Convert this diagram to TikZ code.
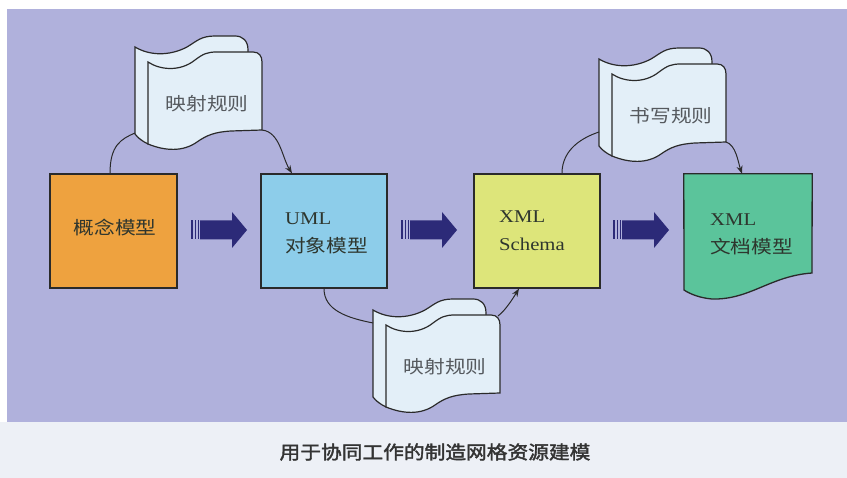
\documentclass[tikz,border=0pt]{standalone}
\usepackage{fontspec}
\setmainfont[FakeStretch=1.15]{Liberation Serif}
\newfontfamily\cjk[FakeStretch=1.15]{Noto Sans CJK SC}
\newfontfamily\cjkbold[FakeStretch=1.12,FakeBold=2]{Noto Sans CJK SC}
\usetikzlibrary{arrows.meta}
\definecolor{bgc}{HTML}{B0B1DC}
\definecolor{bandc}{HTML}{EDF0F6}
\definecolor{boxA}{HTML}{EEA23F}
\definecolor{boxB}{HTML}{8DCDEA}
\definecolor{boxC}{HTML}{DDE57A}
\definecolor{boxD}{HTML}{5BC49B}
\definecolor{scrollc}{HTML}{E3EFF8}
\definecolor{navy}{HTML}{2C2A78}
\definecolor{linec}{HTML}{2A2A2A}
\definecolor{txtc}{HTML}{2E362E}
\definecolor{stxt}{HTML}{55595E}
\tikzset{
  modelbox/.style={draw=linec, line width=1.3pt, minimum height=114pt, inner sep=0pt},
  boxtext/.style={text=txtc, font=\fontsize{18}{28}\selectfont, inner sep=0pt},
  conn/.style={draw=linec, line width=1pt},
  connarrow/.style={conn, -{Stealth[length=8pt,width=6pt]}},
  scroll/.pic={
    \path[fill=scrollc, draw=linec, line width=1.2pt]
      (0,0) .. controls (15,9) and (35,9) .. (52,0)
      .. controls (62,-6) and (66,-11) .. (80,-11) -- (100,-11)
      .. controls (108,-11) and (113,-6) .. (113,3) -- (113,80) -- (13,97)
      .. controls (7,94) and (3,91) .. (0,87) -- cycle;
    \path[fill=scrollc, draw=linec, line width=1.2pt]
      (13,15) .. controls (25,23) and (45,25) .. (60,13)
      .. controls (68,7) and (72,5) .. (82,5) -- (118,5)
      .. controls (124,5) and (127,9) .. (127,15) -- (127,83) -- (96,84)
      .. controls (80,85) and (72,88) .. (62,95)
      .. controls (48,105) and (30,104) .. (13,97) -- cycle;
    \node[text=stxt, font=\cjk\fontsize{18}{20}\selectfont, inner sep=0pt] (-txt) at (72,57) {#1};
    \coordinate (-lt) at (0,13);
    \coordinate (-lm) at (0,73);
    \coordinate (-lb) at (0,86);
    \coordinate (-rb) at (127,83);
    \coordinate (-rt) at (125,6);
  },
  blockarrow/.pic={
    \fill[navy] (0,-9.5) rectangle (2,9.5);
    \fill[navy] (3.5,-9.5) rectangle (5,9.5);
    \fill[navy] (6.5,-9.5) rectangle (8,9.5);
    \fill[navy] (9,-9.5) -- (41,-9.5) -- (41,-18) -- (56,0) -- (41,18) -- (41,9.5) -- (9,9.5) -- cycle;
  }
}
\begin{document}
\begin{tikzpicture}[x=1pt, y=-1pt]
\useasboundingbox (0,0) rectangle (847,478);
% backgrounds
\fill[white] (0,0) rectangle (847,478);
\fill[bgc] (7,9) rectangle (847,422);
\fill[bandc] (0,422) rectangle (847,478);

% boxes
\node[modelbox, fill=boxA, minimum width=127pt] (b1) at (113.5,231) {};
\node[modelbox, fill=boxB, minimum width=126pt] (b2) at (324,231) {};
\node[modelbox, fill=boxC, minimum width=126pt] (b3) at (537,231) {};
\node[minimum width=128pt, minimum height=114pt, inner sep=0pt] (b4) at (748,231) {};
\path[fill=boxD, draw=linec, line width=1.3pt]
  (b4.north west) -- (b4.north east) -- (812,273)
  .. controls (770,276) and (750,300) .. (712,299)
  .. controls (700,298) and (690,294) .. (684,290) -- cycle;

% box texts
\node[boxtext, font=\cjk\fontsize{18}{28}\selectfont] (t1) at (115,228) {概念模型};
\node[boxtext, anchor=west, align=left] (t2) at (285,233) {UML\\{\cjk 对象模型}};
\node[boxtext, anchor=west, align=left] (t3) at (499,231) {XML\\Schema};
\node[boxtext, anchor=west, align=left] (t4) at (710,234) {XML\\{\cjk 文档模型}};

% block arrows
\pic at (191,230) {blockarrow};
\pic at (401,230) {blockarrow};
\pic at (613,230) {blockarrow};

% scrolls
\pic (s1) at (135,47) {scroll=映射规则};
\pic (s2) at (373,310) {scroll=映射规则};
\pic (s3) at (599,59) {scroll=书写规则};

% connectors
\draw[conn] ([xshift=-3.5pt]b1.north) .. controls +(0,-28) and +(-14,6) .. (s1-lb);
\draw[connarrow] (s1-rb) .. controls +(18,2) and +(-10,-16) .. ([xshift=-32pt]b2.north);
\draw[conn] (b2.south) .. controls +(0,22) and +(-25,-5) .. (s2-lt);
\draw[connarrow] (s2-rt) .. controls +(8,-6) and +(-5,8) .. ([xshift=-18pt]b3.south);
\draw[conn] ([xshift=25pt]b3.north) .. controls +(0,-25) and +(-15,5) .. (s3-lm);
\draw[connarrow] (s3-rb) .. controls +(10,3) and +(-4,-12) .. ([xshift=-6pt]b4.north);

% caption
\node[text=black!80, font=\cjkbold\fontsize{18.5}{24}\selectfont, inner sep=0pt] (cap) at (435,452) {用于协同工作的制造网格资源建模};
\end{tikzpicture}
\end{document}
